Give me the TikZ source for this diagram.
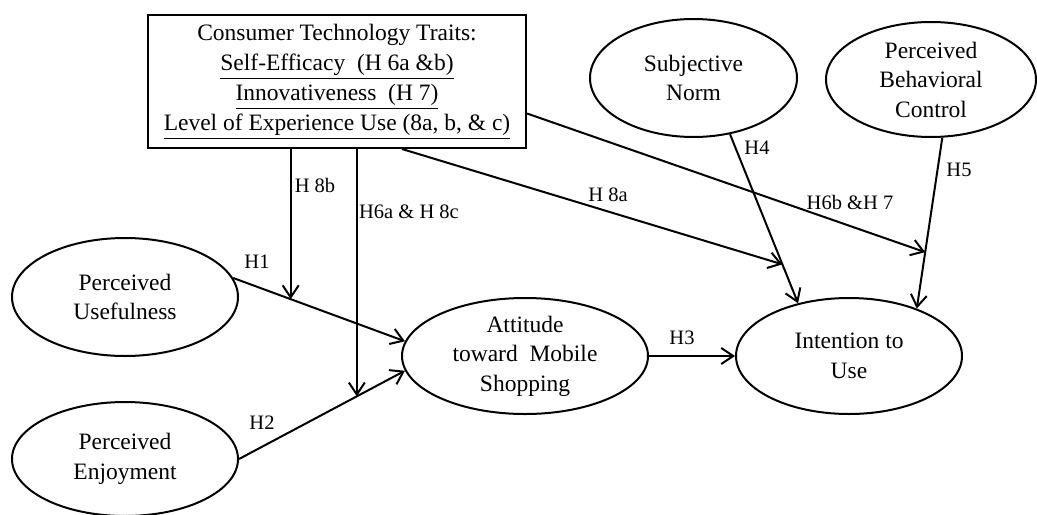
\documentclass[tikz,border=0pt]{standalone}
\usepackage{fontspec}
\setmainfont{Liberation Serif}
\usetikzlibrary{shapes.geometric,arrows.meta,calc}

\begin{document}
\begin{tikzpicture}[
    x=0.5pt, y=-0.5pt,
    construct/.style={ellipse, draw, line width=1pt, inner sep=0pt, align=center, font=\fontsize{11.75}{14.75}\selectfont},
    traits/.style={rectangle, draw, line width=1pt, inner sep=0pt, align=center, minimum width=189pt, minimum height=66.5pt, font=\fontsize{11.75}{15}\selectfont},
    hyp/.style={inner sep=0pt, font=\fontsize{10.25}{12}\selectfont},
    arrow/.style={-{Straight Barb[length=6pt,width=8pt]}, line width=1pt},
]
    \useasboundingbox (0,0) rectangle (1037,514);
    % constructs
    \node[traits] (CTT) at (337,81.5) {Consumer Technology Traits:\\
        \underline{Self-Efficacy\enspace(H 6a \&b)}\\
        \underline{Innovativeness\enspace(H 7)}\\
        \underline{Level of Experience Use (8a, b, \& c)}};
    \node[construct, minimum width=113pt, minimum height=59pt] (PU) at (125,297) {Perceived\\Usefulness};
    \node[construct, minimum width=113pt, minimum height=57pt] (PE) at (125,459) {Perceived\\Enjoyment};
    \node[construct, minimum width=123pt, minimum height=58pt] (ATT) at (525,356) {Attitude\\toward\enspace Mobile\\Shopping};
    \node[construct, minimum width=113pt, minimum height=58pt] (IU) at (849,356) {Intention to\\Use};
    \node[construct, minimum width=103.5pt, minimum height=59pt] (SN) at (693.5,78) {Subjective\\Norm};
    \node[construct, minimum width=105pt, minimum height=57.5pt] (PBC) at (931,79.5) {Perceived\\Behavioral\\Control};

    % direct paths
    \draw[arrow] (PU.10) -- coordinate[pos=0.335] (onH1) (ATT.173);
    \draw[arrow] (PE.east) -- coordinate[pos=0.71] (onH2) (ATT.187);
    \draw[arrow] (ATT) -- (IU);
    \draw[arrow] (SN.-57) -- coordinate[pos=0.77] (onH4) (IU.134);
    \draw[arrow] (PBC.-79) -- coordinate[pos=0.67] (onH5) (IU.35);

    % moderating paths
    \draw[arrow] (CTT.south -| onH1) -- (onH1);
    \draw[arrow] (CTT.south -| onH2) -- (onH2);
    \draw[arrow] ($(CTT.south)+(65,0)$) -- (onH4);
    \draw[arrow] ($(CTT.east)+(0,32)$) -- (onH5);

    % hypothesis labels
    \node[hyp] (lH1) at (257,262) {H1};
    \node[hyp] (lH2) at (262,423) {H2};
    \node[hyp] (lH3) at (682,338) {H3};
    \node[hyp] (lH4) at (757,148) {H4};
    \node[hyp] (lH5) at (959,170) {H5};
    \node[hyp] (lH8b) at (315,185) {H 8b};
    \node[hyp] (lH6a) at (409,212) {H6a \& H 8c};
    \node[hyp] (lH8a) at (608,195) {H 8a};
    \node[hyp] (lH6b) at (850,202) {H6b \&H 7};
\end{tikzpicture}
\end{document}
